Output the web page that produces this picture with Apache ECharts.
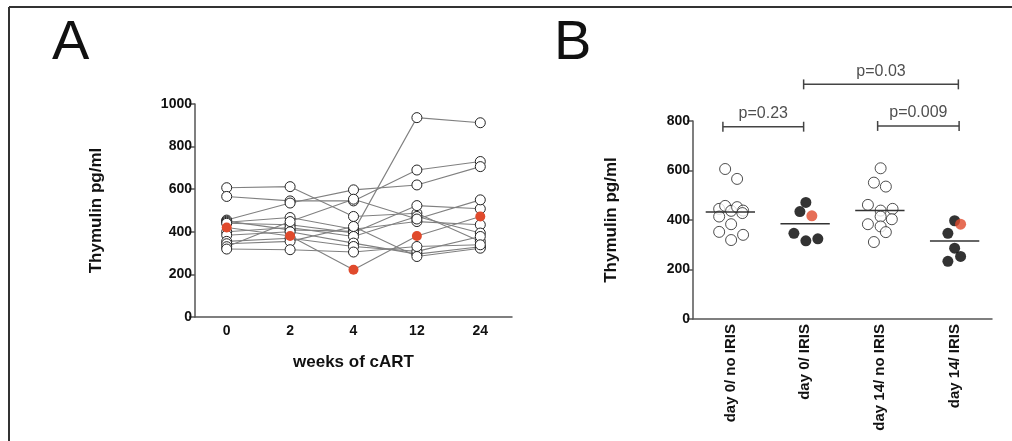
<!DOCTYPE html>
<html><head><meta charset="utf-8">
<script src="https://cdn.jsdelivr.net/npm/echarts@6/dist/echarts.min.js"></script>
<style>html,body{margin:0;padding:0;background:#fff}#c{width:1012px;height:441px}</style>
</head><body><div id="c"></div>
<script>
// ---------- Panel A data ----------
const weeks = ['0', '2', '4', '12', '24'];
const patient1 = [607, 612, 472, 487, 355];
const patient2 = [566, 545, 545, 690, 730];
const patient3 = [455, 535, 597, 620, 706];
const patient4 = [450, 409, 402, 936, 912];
const patient5 = [445, 467, 412, 448, 433];
const patient6 = [440, 433, 395, 523, 508];
const patient8 = [400, 420, 378, 472, 394];
const patient9 = [384, 400, 347, 295, 330];
const patient10 = [355, 370, 331, 308, 378];
const patient11 = [344, 355, 425, 284, 323];
const patient12 = [330, 448, 553, 460, 550];
const patient13 = [319, 316, 305, 331, 339];
const redPatient = [420, 380, 222, 380, 472];
const patientsA = [patient1, patient2, patient3, patient4, patient5, patient6, patient8, patient9, patient10, patient11, patient12, patient13];

// ---------- Panel B data ----------
const groupsB = ['day 0/ no IRIS', 'day 0/ IRIS', 'day 14/ no IRIS', 'day 14/ IRIS'];
const d0NoIris = [606, 566, 445, 457, 437, 452, 438, 428, 414, 383, 352, 340, 319];
const d0NoIrisJitter = [-0.07, 0.09, -0.15, -0.07, 0.01, 0.09, 0.17, 0.16, -0.15, 0.01, -0.15, 0.17, 0.01];
const d0Iris = [471, 434, 346, 316, 324];
const d0IrisJitter = [0.01, -0.07, -0.15, 0.01, 0.17];
const d0IrisRed = [417];
const d0IrisRedJitter = [0.09];
const d14NoIris = [609, 551, 535, 461, 438, 445, 414, 403, 383, 374, 351, 311];
const d14NoIrisJitter = [0.01, -0.08, 0.08, -0.16, 0.01, 0.17, 0.01, 0.16, -0.16, 0.01, 0.08, -0.08];
const d14Iris = [397, 346, 286, 233, 253];
const d14IrisJitter = [0.0, -0.09, 0.0, -0.09, 0.08];
const d14IrisRed = [383];
const d14IrisRedJitter = [0.08];
const mediansB = [432, 385, 438, 315];
const pLabels = ['p=0.23', 'p=0.03', 'p=0.009'];
const pFrom = [-0.1, 0.98, 1.97];
const pTo = [0.98, 3.05, 3.06];
const pLevel = [777, 948, 780];

const FONT = '"Liberation Sans", Arial, sans-serif';
const axisCol = '#555';
const redCol = '#E04A2C';

const chart = echarts.init(document.getElementById('c'), null, {renderer: 'canvas'});

const series = [];
patientsA.forEach((p) => {
  series.push({
    type: 'line', xAxisIndex: 0, yAxisIndex: 0, data: p,
    symbol: 'circle', symbolSize: 10, showSymbol: true,
    lineStyle: {color: '#808080', width: 1.1},
    itemStyle: {color: '#fff', borderColor: '#222', borderWidth: 1},
    z: 2
  });
});
series.push({
  type: 'line', xAxisIndex: 0, yAxisIndex: 0, data: redPatient,
  symbol: 'circle', symbolSize: 10,
  lineStyle: {color: '#808080', width: 1.1},
  itemStyle: {color: redCol, borderColor: redCol, borderWidth: 0},
  z: 3
});

function pts(vals, jit, c) { return vals.map((v, i) => [c + jit[i], v]); }
const openStyle = {color: '#fff', borderColor: '#222', borderWidth: 1};
const fillStyle = {color: '#000'};
series.push({type: 'scatter', xAxisIndex: 2, yAxisIndex: 1, data: pts(d0NoIris, d0NoIrisJitter, 0), symbolSize: 11, itemStyle: openStyle, z: 3});
series.push({type: 'scatter', xAxisIndex: 2, yAxisIndex: 1, data: pts(d0Iris, d0IrisJitter, 1), symbolSize: 11, itemStyle: fillStyle, z: 3});
series.push({type: 'scatter', xAxisIndex: 2, yAxisIndex: 1, data: pts(d0IrisRed, d0IrisRedJitter, 1), symbolSize: 11, itemStyle: {color: redCol}, z: 3});
series.push({type: 'scatter', xAxisIndex: 2, yAxisIndex: 1, data: pts(d14NoIris, d14NoIrisJitter, 2), symbolSize: 11, itemStyle: openStyle, z: 3});
series.push({type: 'scatter', xAxisIndex: 2, yAxisIndex: 1, data: pts(d14Iris, d14IrisJitter, 3), symbolSize: 11, itemStyle: fillStyle, z: 3});
series.push({type: 'scatter', xAxisIndex: 2, yAxisIndex: 1, data: pts(d14IrisRed, d14IrisRedJitter, 3), symbolSize: 11, itemStyle: {color: redCol}, z: 3});
mediansB.forEach((m, i) => {
  series.push({type: 'line', xAxisIndex: 2, yAxisIndex: 1, data: [[i - 0.33, m], [i + 0.33, m]],
    symbol: 'none', lineStyle: {color: '#333', width: 1.5}, z: 4});
});
pLabels.forEach((lab, i) => {
  const y = pLevel[i], a = pFrom[i], b = pTo[i];
  const ls = {color: '#444', width: 1.5};
  series.push({type: 'line', xAxisIndex: 2, yAxisIndex: 1, clip: false, symbol: 'none', lineStyle: ls, data: [[a, y], [b, y]]});
  series.push({type: 'line', xAxisIndex: 2, yAxisIndex: 1, clip: false, symbol: 'none', lineStyle: ls, data: [[a, y - 20], [a, y + 20]]});
  series.push({type: 'line', xAxisIndex: 2, yAxisIndex: 1, clip: false, symbol: 'none', lineStyle: ls, data: [[b, y - 20], [b, y + 20]]});
  series.push({type: 'scatter', xAxisIndex: 2, yAxisIndex: 1, clip: false, symbolSize: 0,
    data: [[(a + b) / 2, y]],
    label: {show: true, position: 'top', distance: 5, formatter: lab, fontFamily: FONT, fontSize: 16, color: '#222'}});
});

const yAxisCommon = {
  type: 'value', interval: 200, splitLine: {show: false},
  axisLine: {show: true, onZero: false, lineStyle: {color: axisCol, width: 1.5}},
  axisTick: {show: true, length: 6, lineStyle: {color: axisCol, width: 1.5}},
  axisLabel: {margin: 3, fontFamily: FONT, fontWeight: 'bold', fontSize: 14, color: '#111', formatter: (v) => String(v)},
  nameLocation: 'middle', nameTextStyle: {fontFamily: FONT, fontWeight: 'bold', fontSize: 17, color: '#111'}
};

chart.setOption({
  animation: false,
  backgroundColor: '#fff',
  grid: [
    {left: 195, top: 104, width: 317, height: 213},
    {left: 693, top: 121, width: 299, height: 198}
  ],
  xAxis: [
    {type: 'category', gridIndex: 0, data: weeks, boundaryGap: true,
      axisLine: {onZero: false, lineStyle: {color: axisCol, width: 1.5}},
      axisTick: {alignWithLabel: true, length: 5, lineStyle: {color: axisCol, width: 1.5}},
      axisLabel: {margin: 7, fontFamily: FONT, fontWeight: 'bold', fontSize: 14, color: '#111'},
      name: 'weeks of cART', nameLocation: 'middle', nameGap: 37,
      nameTextStyle: {fontFamily: FONT, fontWeight: 'bold', fontSize: 17, color: '#111'}},
    {type: 'category', gridIndex: 1, data: groupsB, boundaryGap: true,
      axisLine: {onZero: false, lineStyle: {color: axisCol, width: 1.5}},
      axisTick: {alignWithLabel: true, length: 4, lineStyle: {color: axisCol, width: 1.5}},
      axisLabel: {rotate: 90, margin: 5, fontFamily: FONT, fontWeight: 'bold', fontSize: 15, color: '#111'}},
    {type: 'value', gridIndex: 1, min: -0.5, max: 3.5, show: false}
  ],
  yAxis: [
    Object.assign({}, yAxisCommon, {gridIndex: 0, min: 0, max: 1000, name: 'Thymulin pg/ml', nameGap: 90}),
    Object.assign({}, yAxisCommon, {gridIndex: 1, min: 0, max: 800, name: 'Thymulin pg/ml', nameGap: 73})
  ],
  graphic: [
    {type: 'line', shape: {x1: 9, y1: 7, x2: 1012, y2: 7}, style: {stroke: '#333', lineWidth: 2}},
    {type: 'line', shape: {x1: 9, y1: 7, x2: 9, y2: 441}, style: {stroke: '#333', lineWidth: 2}},
    {type: 'text', left: 52, top: 16, style: {text: 'A', font: '400 56px "Liberation Sans Narrow", "Liberation Sans", Arial, sans-serif', fill: '#111'}},
    {type: 'text', left: 554, top: 16, style: {text: 'B', font: '400 56px "Liberation Sans Narrow", "Liberation Sans", Arial, sans-serif', fill: '#111'}}
  ],
  series: series
});
</script></body></html>
